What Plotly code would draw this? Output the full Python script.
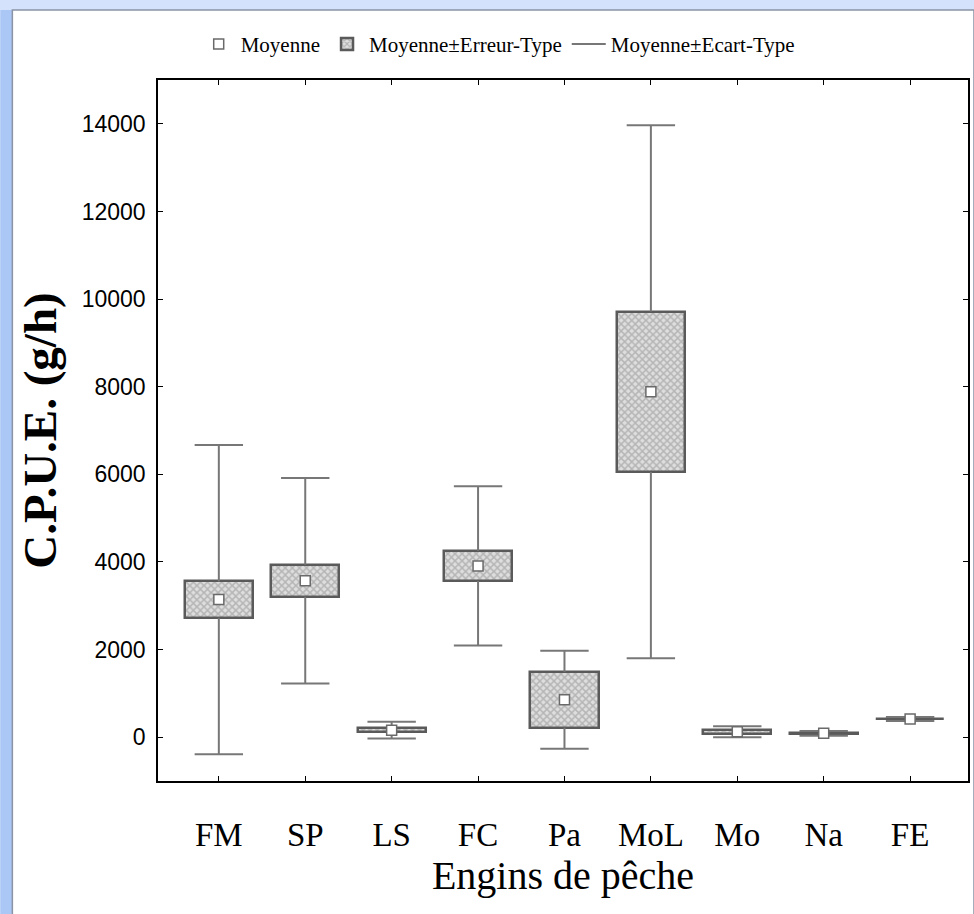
import plotly.graph_objects as go

# ---- data ----
categories = ["FM", "SP", "LS", "FC", "Pa", "MoL", "Mo", "Na", "FE"]
means = [3140, 3570, 160, 3910, 855, 7885, 125, 88, 415]
std_err = [415, 365, 40, 345, 635, 1830, 45, 15, 10]
std_dev = [3530, 2345, 190, 1820, 1120, 6085, 125, 55, 45]
y_ticks = [0, 2000, 4000, 6000, 8000, 10000, 12000, 14000]
y_tick_labels = [str(v) for v in y_ticks]

idx = list(range(len(categories)))
cap_half = 0.28
box_w = 0.79

# whisker segments built from the data
wx, wy = [], []
for i, m, se, sd in zip(idx, means, std_err, std_dev):
    wx += [i, i, None, i, i, None, i - cap_half, i + cap_half, None, i - cap_half, i + cap_half, None]
    wy += [m + se, m + sd, None, m - se, m - sd, None, m + sd, m + sd, None, m - sd, m - sd, None]

fig = go.Figure()

fig.add_trace(go.Bar(
    x=idx, y=[2 * s for s in std_err], base=[m - s for m, s in zip(means, std_err)],
    width=box_w, name="Moyenne±Erreur-Type", legendrank=2,
    marker=dict(color="#d6d6d6",
                line=dict(color="#5a5a5a", width=2.5),
                pattern=dict(shape="x", size=5, solidity=0.5,
                             fgcolor="#8c8c8c", bgcolor="#dedede")),
    hoverinfo="skip",
))

fig.add_trace(go.Scatter(
    x=wx, y=wy, mode="lines", name="Moyenne±Ecart-Type", legendrank=3,
    line=dict(color="#777777", width=2), hoverinfo="skip",
))

fig.add_trace(go.Scatter(
    x=idx, y=means, mode="markers", name="Moyenne", legendrank=1,
    marker=dict(symbol="square", size=10, color="white",
                line=dict(color="#6a6a6a", width=1.5)),
))

# ---- frame decoration (pixel -> paper) ----
L, R, T, B = 158, 970, 80, 781
W, H = 974, 914
def px(x):
    return (x - L) / (R - L)
def py(y):
    return (B - y) / (B - T)

shapes = [
    dict(type="rect", xref="paper", yref="paper", x0=px(0), x1=px(12), y0=py(914), y1=py(10),
         fillcolor="#abc7f6", line=dict(width=0), layer="below"),
    dict(type="rect", xref="paper", yref="paper", x0=px(12), x1=px(976), y0=py(916), y1=py(10),
         fillcolor="white", line=dict(color="#8a94a6", width=1.5), layer="below"),
]

fig.update_layout(
    width=W, height=H,
    margin=dict(l=L, r=W - R, t=T, b=H - B),
    paper_bgcolor="#d4e3fb", plot_bgcolor="white",
    shapes=shapes,
    showlegend=True,
    legend=dict(orientation="h", x=0.42, xanchor="center", y=1.051, yanchor="middle",
                font=dict(family="Liberation Serif", size=21, color="black"),
                bgcolor="rgba(0,0,0,0)", itemwidth=34, tracegroupgap=0),
    bargap=0,
)

fig.update_xaxes(
    range=[-0.704, 8.67], tickmode="array", tickvals=idx, ticktext=categories,
    showline=True, linecolor="black", linewidth=1.5, mirror="ticks",
    ticks="inside", ticklen=5, tickcolor="black", showgrid=False, zeroline=False,
    tickfont=dict(family="Liberation Serif", size=33, color="black"),
    ticklabelstandoff=24,
    title=dict(text="Engins de pêche", font=dict(family="Liberation Serif", size=40, color="black"),
               standoff=6),
)
fig.update_yaxes(
    range=[-1000, 15000], tickmode="array", tickvals=y_ticks, ticktext=y_tick_labels,
    showline=True, linecolor="black", linewidth=1.5, mirror="ticks",
    ticks="inside", ticklen=5, tickcolor="black", showgrid=False, zeroline=False,
    tickfont=dict(family="Liberation Sans", size=23, color="black"),
    ticklabelstandoff=6,
    title=dict(text="<b>C.P.U.E. (g/h)</b>", font=dict(family="Liberation Serif", size=47, color="black"),
               standoff=10),
)

fig.write_html("out.html")
